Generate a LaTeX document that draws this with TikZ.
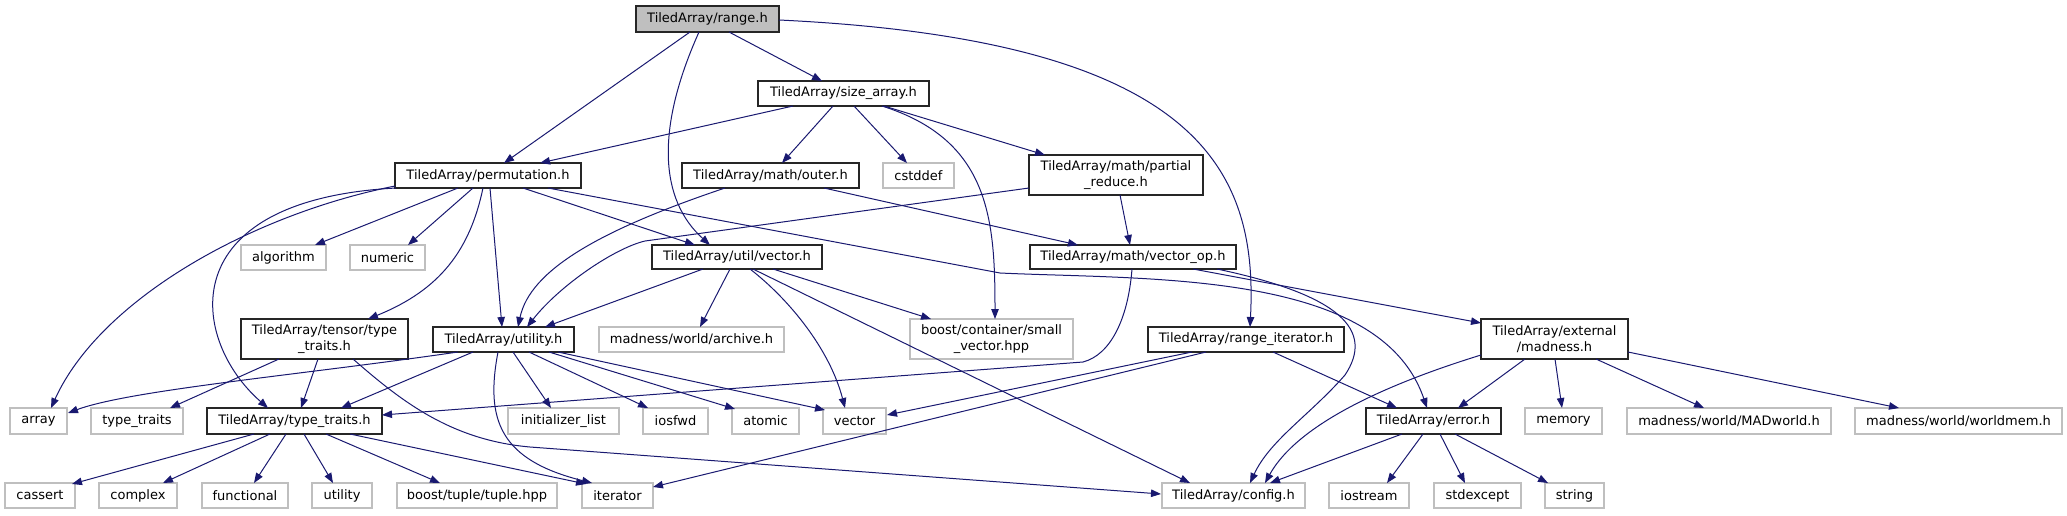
\documentclass[tikz,border=0pt]{standalone}
\usepackage{fontspec}
\setmainfont{DejaVu Sans}
\usetikzlibrary{arrows.meta}
\definecolor{edgeblue}{HTML}{191970}
\definecolor{lightgr}{HTML}{BFBFBF}
\tikzset{
  nbox/.style={draw=black!85, line width=1.2pt, fill=white, inner sep=0pt, align=center,
     font=\fontsize{13}{15.5}\selectfont},
  sbox/.style={draw=lightgr, line width=1.1pt, fill=white, inner sep=0pt, align=center,
     font=\fontsize{13}{15.5}\selectfont},
  rootbox/.style={nbox, fill=lightgr},
  dep/.style={draw=edgeblue, line width=1pt, -{Triangle[length=10pt,width=7.5pt]}, fill=none},
}
\begin{document}
\begin{tikzpicture}[x=1pt,y=-1pt]
\useasboundingbox (0,0) rectangle (2067,515);
% row 0
\node[rootbox, minimum width=143pt, minimum height=26pt] (range) at (707.5,19) {TiledArray/range.h};
% row 1
\node[nbox, minimum width=171pt, minimum height=25pt] (size) at (843.5,93.5) {TiledArray/size\_array.h};
% row 2
\node[nbox, minimum width=186pt, minimum height=25pt] (perm) at (488,175.5) {TiledArray/permutation.h};
\node[nbox, minimum width=177pt, minimum height=25pt] (outer) at (770.5,175.5) {TiledArray/math/outer.h};
\node[sbox, minimum width=71pt, minimum height=25pt] (cstddef) at (918.5,175.5) {cstddef};
\node[nbox, minimum width=174pt, minimum height=40pt] (partial) at (1116,175) {TiledArray/math/partial\\\_reduce.h};
% row 3
\node[nbox, minimum width=170pt, minimum height=24pt] (vech) at (737,257) {TiledArray/util/vector.h};
\node[nbox, minimum width=206pt, minimum height=24pt] (vop) at (1133,257) {TiledArray/math/vector\_op.h};
\node[sbox, minimum width=85pt, minimum height=25pt] (algorithm) at (283.5,257.5) {algorithm};
\node[sbox, minimum width=75pt, minimum height=25pt] (numeric) at (387.5,257.5) {numeric};
% row 4
\node[nbox, minimum width=167pt, minimum height=40pt] (tensortt) at (324.5,339) {TiledArray/tensor/type\\\_traits.h};
\node[nbox, minimum width=141pt, minimum height=25pt] (utilh) at (503.5,339.5) {TiledArray/utility.h};
\node[sbox, minimum width=185pt, minimum height=25pt] (archive) at (691.5,339.5) {madness/world/archive.h};
\node[sbox, minimum width=163pt, minimum height=40pt] (smallvec) at (991.5,339) {boost/container/small\\\_vector.hpp};
\node[nbox, minimum width=196pt, minimum height=25pt] (rangeit) at (1246,339.5) {TiledArray/range\_iterator.h};
\node[nbox, minimum width=147pt, minimum height=40pt] (madness) at (1554.5,339) {TiledArray/external\\/madness.h};
% row 5
\node[sbox, minimum width=57pt, minimum height=26pt] (array) at (38.5,421) {array};
\node[sbox, minimum width=92pt, minimum height=26pt] (typetraits) at (137,421) {type\_traits};
\node[nbox, minimum width=175pt, minimum height=26pt] (tatt) at (294.5,421) {TiledArray/type\_traits.h};
\node[sbox, minimum width=111pt, minimum height=26pt] (initlist) at (563.5,421) {initializer\_list};
\node[sbox, minimum width=65pt, minimum height=26pt] (iosfwd) at (675.5,421) {iosfwd};
\node[sbox, minimum width=67pt, minimum height=26pt] (atomic) at (765.5,421) {atomic};
\node[sbox, minimum width=63pt, minimum height=26pt] (vector) at (854.5,421) {vector};
\node[nbox, minimum width=135pt, minimum height=26pt] (error) at (1433.5,421) {TiledArray/error.h};
\node[sbox, minimum width=77pt, minimum height=26pt] (memory) at (1563.5,421) {memory};
\node[sbox, minimum width=204pt, minimum height=26pt] (madworld) at (1729,421) {madness/world/MADworld.h};
\node[sbox, minimum width=207pt, minimum height=26pt] (worldmem) at (1958.5,421) {madness/world/worldmem.h};
% row 6
\node[sbox, minimum width=70pt, minimum height=25pt] (cassert) at (40,495.5) {cassert};
\node[sbox, minimum width=78pt, minimum height=25pt] (complex) at (138,495.5) {complex};
\node[sbox, minimum width=86pt, minimum height=25pt] (functional) at (245,495.5) {functional};
\node[sbox, minimum width=60pt, minimum height=25pt] (utility) at (342,495.5) {utility};
\node[sbox, minimum width=160pt, minimum height=25pt] (tuple) at (477,495.5) {boost/tuple/tuple.hpp};
\node[sbox, minimum width=71pt, minimum height=25pt] (iterator) at (617.5,495.5) {iterator};
\node[sbox, minimum width=143pt, minimum height=25pt] (config) at (1233.5,495.5) {TiledArray/config.h};
\node[sbox, minimum width=80pt, minimum height=25pt] (iostream) at (1369,495.5) {iostream};
\node[sbox, minimum width=87pt, minimum height=25pt] (stdexcept) at (1477.5,495.5) {stdexcept};
\node[sbox, minimum width=59pt, minimum height=25pt] (string) at (1574.5,495.5) {string};

% ---- edges
% range.h
\draw[dep] ([shift={(-17.5,13)}]range.center) -- ([shift={(16,-12.5)}]perm.center);
\draw[dep] ([shift={(21.5,13)}]range.center) -- ([shift={(-21.5,-12.5)}]size.center);
\draw[dep] ([shift={(-8.5,13)}]range.center) .. controls +(-44,98) and +(-50,-45) .. ([shift={(-27,-12)}]vech.center);
\draw[dep] ([shift={(71.5,1)}]range.center) .. controls +(421,20) and +(8,-157) .. ([shift={(4,-12.5)}]rangeit.center);
% size_array.h
\draw[dep] ([shift={(-50.5,12.5)}]size.center) -- ([shift={(52,-12.5)}]perm.center);
\draw[dep] ([shift={(-10.5,12.5)}]size.center) -- ([shift={(11.5,-12.5)}]outer.center);
\draw[dep] ([shift={(10.5,12.5)}]size.center) -- ([shift={(-11.5,-12.5)}]cstddef.center);
\draw[dep] ([shift={(38.5,12.5)}]size.center) .. controls +(108,34) and +(0,-99) .. ([shift={(3.5,-20)}]smallvec.center);
\draw[dep] ([shift={(40.5,12.5)}]size.center) -- ([shift={(-71,-20)}]partial.center);
% permutation.h
\draw[dep] ([shift={(-93,10.5)}]perm.center) .. controls +(-145,29) and +(49,-108) .. ([shift={(12.5,-13)}]array.center);
\draw[dep] ([shift={(-92,12.5)}]perm.center) .. controls +(-226,12) and +(-78,-68) .. ([shift={(-26.5,-13)}]tatt.center);
\draw[dep] ([shift={(-30,12.5)}]perm.center) -- ([shift={(31.5,-12.5)}]algorithm.center);
\draw[dep] ([shift={(-15,12.5)}]perm.center) -- ([shift={(20.5,-12.5)}]numeric.center);
\draw[dep] ([shift={(-5,12.5)}]perm.center) .. controls +(-13,62) and +(72,-29) .. ([shift={(43.5,-20)}]tensortt.center);
\draw[dep] ([shift={(2,12.5)}]perm.center) -- ([shift={(-1.5,-12.5)}]utilh.center);
\draw[dep] ([shift={(35,12.5)}]perm.center) -- ([shift={(-42,-12)}]vech.center);
\draw[dep] ([shift={(60,12.5)}]perm.center) -- ++(452,85) .. controls +(150,7) and +(-47,-138) .. ([shift={(-6.5,-13)}]error.center);
% outer.h
\draw[dep] ([shift={(-45.5,12.5)}]outer.center) .. controls +(-125,42) and +(12,-57) .. ([shift={(14.5,-12.5)}]utilh.center);
\draw[dep] ([shift={(53.5,12.5)}]outer.center) -- ([shift={(-55,-12)}]vop.center);
% partial_reduce.h
\draw[dep] ([shift={(-87,13)}]partial.center) -- ++(-384,53) .. controls +(-30,7) and +(33,-42) .. ([shift={(23.5,-12.5)}]utilh.center);
\draw[dep] ([shift={(4,20)}]partial.center) -- ([shift={(-3,-12)}]vop.center);
% util/vector.h
\draw[dep] ([shift={(-34,12)}]vech.center) -- ([shift={(41.5,-12.5)}]utilh.center);
\draw[dep] ([shift={(-7,12)}]vech.center) -- ([shift={(8.5,-12.5)}]archive.center);
\draw[dep] ([shift={(13,12)}]vech.center) .. controls +(40,31) and +(-15,-58) .. ([shift={(-9.5,-13)}]vector.center);
\draw[dep] ([shift={(16,12)}]vech.center) -- ([shift={(-43.5,-12.5)}]config.center);
\draw[dep] ([shift={(36,12)}]vech.center) -- ([shift={(-60.5,-20)}]smallvec.center);
% vector_op.h
\draw[dep] ([shift={(-1,12)}]vop.center) .. controls +(-4,51) and +(27,-7) .. ++(-49,93) -- ([shift={(87.5,-6)}]tatt.center);
\draw[dep] ([shift={(60,12)}]vop.center) -- ([shift={(-73.5,-16)}]madness.center);
\draw[dep] ([shift={(84,12)}]vop.center) .. controls +(123,26) and +(30,-45) .. ++(128,106) .. controls +(-35,40) and +(20,-43) .. ([shift={(16.5,-12.5)}]config.center);
% range_iterator.h
\draw[dep] ([shift={(-54,12.5)}]rangeit.center) -- ([shift={(32.5,-6)}]vector.center);
\draw[dep] ([shift={(-40,12.5)}]rangeit.center) -- ([shift={(35.5,-8.5)}]iterator.center);
\draw[dep] ([shift={(27,12.5)}]rangeit.center) -- ([shift={(-36.5,-13)}]error.center);
% madness.h
\draw[dep] ([shift={(-73.5,16)}]madness.center) .. controls +(-81,25) and +(35,-63) .. ([shift={(31.5,-12.5)}]config.center);
\draw[dep] ([shift={(-29.5,20)}]madness.center) -- ([shift={(24.5,-13)}]error.center);
\draw[dep] ([shift={(0.5,20)}]madness.center) -- ([shift={(-1.5,-13)}]memory.center);
\draw[dep] ([shift={(41.5,20)}]madness.center) -- ([shift={(-25,-13)}]madworld.center);
\draw[dep] ([shift={(73.5,13)}]madness.center) -- ([shift={(-59.5,-13)}]worldmem.center);
% error.h
\draw[dep] ([shift={(-31.5,13)}]error.center) -- ([shift={(36.5,-12.5)}]config.center);
\draw[dep] ([shift={(-10.5,13)}]error.center) -- ([shift={(18,-12.5)}]iostream.center);
\draw[dep] ([shift={(6.5,13)}]error.center) -- ([shift={(-12.5,-12.5)}]stdexcept.center);
\draw[dep] ([shift={(21.5,13)}]error.center) -- ([shift={(-26.5,-12.5)}]string.center);
% tensor/type_traits.h
\draw[dep] ([shift={(-45.5,20)}]tensortt.center) -- ([shift={(33,-13)}]typetraits.center);
\draw[dep] ([shift={(-6.5,20)}]tensortt.center) -- ([shift={(6.5,-13)}]tatt.center);
\draw[dep] ([shift={(28.5,20)}]tensortt.center) .. controls +(47,41) and +(-80,-7) .. ++(177,88) -- ([shift={(-72.5,-1.5)}]config.center);
% utility.h
\draw[dep] ([shift={(-45.5,12.5)}]utilh.center) .. controls +(-158,23) and +(62,-23) .. ([shift={(29.5,-8)}]array.center);
\draw[dep] ([shift={(-30.5,12.5)}]utilh.center) -- ([shift={(46.5,-13)}]tatt.center);
\draw[dep] ([shift={(9.5,12.5)}]utilh.center) -- ([shift={(-12.5,-13)}]initlist.center);
\draw[dep] ([shift={(25.5,12.5)}]utilh.center) -- ([shift={(-27.5,-13)}]iosfwd.center);
\draw[dep] ([shift={(45.5,12.5)}]utilh.center) -- ([shift={(-30.5,-12)}]atomic.center);
\draw[dep] ([shift={(54.5,12.5)}]utilh.center) -- ([shift={(-29.5,-11)}]vector.center);
\draw[dep] ([shift={(-5.5,12.5)}]utilh.center) .. controls +(-13,68) and +(-92,-23) .. ([shift={(-25.5,-12.5)}]iterator.center);
% type_traits.h
\draw[dep] ([shift={(-40.5,13)}]tatt.center) -- ([shift={(32,-11.5)}]cassert.center);
\draw[dep] ([shift={(-24.5,13)}]tatt.center) -- ([shift={(25,-12.5)}]complex.center);
\draw[dep] ([shift={(-8.5,13)}]tatt.center) -- ([shift={(9,-12.5)}]functional.center);
\draw[dep] ([shift={(9.5,13)}]tatt.center) -- ([shift={(-9,-12.5)}]utility.center);
\draw[dep] ([shift={(31.5,13)}]tatt.center) -- ([shift={(-37,-12.5)}]tuple.center);
\draw[dep] ([shift={(55.5,13)}]tatt.center) -- ([shift={(-31.5,-11.5)}]iterator.center);
\end{tikzpicture}
\end{document}
